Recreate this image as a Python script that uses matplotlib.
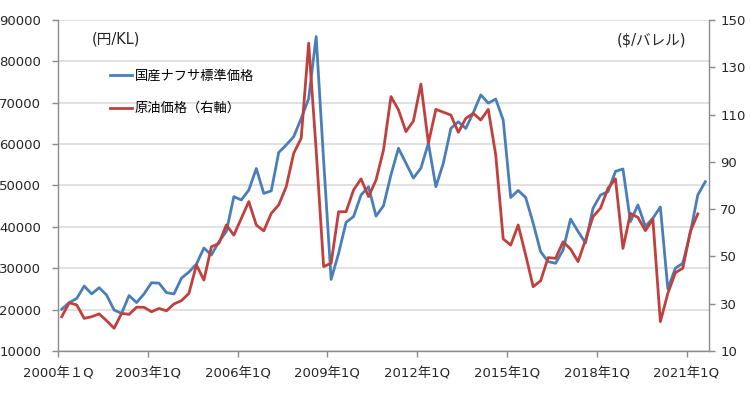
"""Naphtha standard price vs crude oil price, quarterly 2000Q1 onwards."""

import matplotlib

matplotlib.use("Agg")
import matplotlib.pyplot as plt
import numpy as np

plt.rcParams["font.family"] = ["DejaVu Sans", "Noto Sans CJK JP"]

# 国産ナフサ標準価格 (円/KL), quarterly from 2000年1Q
naphtha_yen = [
    20100, 21700, 22700, 25700, 23800, 25300, 23500, 19900, 19100, 23400,
    21700, 23800, 26500, 26400, 24100, 23800, 27600, 29100, 31000, 34900,
    33200, 36400, 38900, 47300, 46500, 48900, 54100, 48100, 48700, 58000,
    59800, 61800, 66200, 71000, 86000, 56000, 27300, 33600, 41100, 42500,
    47700, 49700, 42600, 45100, 52600, 59000, 55400, 51800, 54200, 60200,
    49700, 55400, 63800, 65400, 63800, 67600, 71900, 69900, 70900, 65800,
    47100, 48800, 47100, 40900, 34000, 31600, 31200, 34400, 41900, 38900,
    36100, 44500, 47700, 48500, 53400, 54000, 41300, 45300, 40100, 42100,
    44800, 25000, 30000, 31200, 38500, 47700, 50900,
]
# 原油価格 ($/バレル, right axis), one quarter shorter
crude_usd = [
    24.5, 30.4, 29.5, 23.8, 24.5, 25.7, 22.8, 19.6, 25.9, 25.5,
    28.5, 28.5, 26.6, 28.0, 27.0, 29.9, 31.3, 34.4, 46.4, 40.0,
    54.1, 55.5, 63.3, 59.0, 66.1, 73.2, 63.3, 60.8, 68.2, 71.8,
    79.5, 93.6, 100.0, 140.2, 95.0, 45.7, 47.1, 68.9, 68.9, 78.1,
    82.8, 75.3, 82.3, 95.0, 117.6, 112.0, 102.8, 107.3, 122.9, 97.9,
    112.2, 111.0, 109.8, 102.5, 108.4, 110.5, 107.7, 112.2, 92.9, 57.4,
    54.8, 63.3, 50.6, 37.2, 39.7, 49.5, 49.2, 56.2, 53.1, 47.8,
    57.0, 66.8, 70.4, 78.8, 82.8, 53.4, 68.2, 66.5, 60.9, 65.7,
    22.4, 34.4, 43.1, 45.0, 60.5, 68.0,
]
x_tick_labels = [
    "2000年１Q", "2003年1Q", "2006年1Q", "2009年1Q",
    "2012年1Q", "2015年1Q", "2018年1Q", "2021年1Q",
]

BLUE = "#4A7EBB"
RED = "#C0403D"
SPINE = "#8C8C8C"
GRID = "#DCDCDC"
TEXT = "#262626"
FS = 9.5

fig = plt.figure(figsize=(7.5, 3.94), dpi=100)
ax = fig.add_axes([58 / 750, 1 - 351 / 394, (709 - 58) / 750, (351 - 20) / 394])
ax2 = ax.twinx()

n_cat = len(naphtha_yen)
ln1, = ax.plot(np.arange(len(naphtha_yen)), naphtha_yen, color=BLUE, linewidth=2.0,
               label="国産ナフサ標準価格")
ln2, = ax2.plot(np.arange(len(crude_usd)), crude_usd, color=RED, linewidth=2.0,
                label="原油価格（右軸）")

ax.set_xlim(-0.5, n_cat - 0.5)
ax.set_ylim(10000, 90000)
ax.set_yticks(np.arange(10000, 90001, 10000))
ax2.set_ylim(10, 150)
ax2.set_yticks(np.arange(10, 151, 20))
ax.set_xticks(np.arange(len(x_tick_labels)) * 12 - 0.5)
ax.set_xticklabels(x_tick_labels)

ax.grid(axis="y", color=GRID, linewidth=1.2)
ax.set_axisbelow(True)

for a in (ax, ax2):
    a.spines["top"].set_visible(False)
    for side in ("left", "right", "bottom"):
        a.spines[side].set_color(SPINE)
        a.spines[side].set_linewidth(1.0)
ax.spines["right"].set_visible(False)
ax2.spines["left"].set_visible(False)
ax2.spines["bottom"].set_visible(False)

ax.tick_params(axis="both", colors=SPINE, labelcolor=TEXT, labelsize=FS, length=4, width=1.0)
ax.tick_params(axis="y", pad=8)
ax.tick_params(axis="x", pad=8)
ax2.tick_params(axis="y", colors=SPINE, labelcolor=TEXT, labelsize=FS, length=4, width=1.0, pad=4)

fig.text(92 / 750, 1 - 39 / 394, "(円/KL)", fontsize=10.5, color=TEXT, va="center", ha="left")
fig.text(686 / 750, 1 - 40 / 394, "($/バレル)", fontsize=10.5, color=TEXT, va="center", ha="right")

fig.legend(handles=[ln1, ln2], loc="upper left", bbox_to_anchor=(110 / 750, 1 - 70 / 394),
           frameon=False, fontsize=FS, handlelength=1.7, handletextpad=0.15,
           labelspacing=1.45, borderpad=0, borderaxespad=0)

fig.savefig("out.png", dpi=100)
plt.close(fig)
